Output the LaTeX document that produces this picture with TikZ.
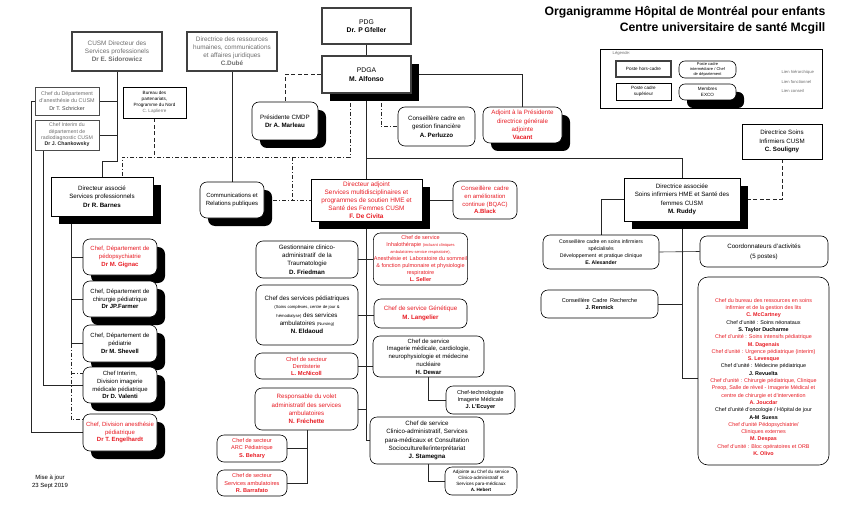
\documentclass[tikz,border=0pt]{standalone}
\usepackage{fontspec}
\setmainfont{Liberation Sans}
\usetikzlibrary{shadows}
\definecolor{ored}{RGB}{232,28,36}
\definecolor{ogray}{RGB}{110,110,110}
\pgfdeclarelayer{bg}
\pgfsetlayers{bg,main}
\newcommand\obox[7]{\node[#1, minimum width={#5pt-#3pt}, minimum height={#6pt-#4pt}] (#2) at ({(#3+#5)/2},{(#4+#6)/2}) {#7};}
\newcommand\redln[1]{\textcolor{ored}{#1}}
\tikzset{
  every node/.style={align=center, inner sep=0.5pt, font=\fontsize{6.2}{8}\selectfont},
  hc/.style={draw=black!75, line width=1.8pt, fill=white},
  sup/.style={draw=black, line width=0.6pt, fill=white},
  rnd/.style={draw=black, line width=0.6pt, rounded corners=7pt, fill=white},
  shd/.style={drop shadow={shadow xshift=8pt, shadow yshift=-8pt, opacity=1, fill=black}},
  rtxt/.style={text=ored},
  gtxt/.style={text=ogray},
  conn/.style={draw=black!85, line width=0.6pt},
  fnl/.style={conn, dash pattern=on 4pt off 2pt on 1pt off 2pt},
  cns/.style={conn, dash pattern=on 4pt off 2.5pt},
  f68/.style={font=\fontsize{6.8}{8.5}\selectfont},
  f64/.style={font=\fontsize{6.4}{8}\selectfont},
  f62/.style={font=\fontsize{6.2}{8.3}\selectfont},
  f60/.style={font=\fontsize{6}{7.8}\selectfont},
  f58/.style={font=\fontsize{5.8}{7}\selectfont},
  f56/.style={font=\fontsize{5.6}{7.2}\selectfont},
  f54/.style={font=\fontsize{5.4}{7.3}\selectfont},
  f52/.style={font=\fontsize{5.2}{7.2}\selectfont},
  f50/.style={font=\fontsize{5.2}{6.3}\selectfont},
  f46/.style={font=\fontsize{4.6}{6}\selectfont},
  f40/.style={font=\fontsize{4}{5}\selectfont},
  f36/.style={font=\fontsize{4.2}{5}\selectfont},
}
\begin{document}
\begin{tikzpicture}[x=1pt,y=-1pt]
\useasboundingbox (0,0) rectangle (850,513);

% title
\node[font=\fontsize{12.2}{16}\selectfont\bfseries, align=right, anchor=north east] (title) at (826,6) {Organigramme Hôpital de Montréal pour enfants\\Centre universitaire de santé Mcgill};

% legend
\obox{sup}{legend}{600}{49}{822}{108}{}
\node[anchor=west, f36, text=ogray] (leglbl) at (612,53) {Légende:};
\obox{hc, line width=1.2pt, f46}{lga}{616}{61}{671}{77}{Poste hors-cadre}
\obox{rnd, rounded corners=6pt, f40}{lgb}{679}{61}{736}{78}{Poste cadre\\intermédiaire / Chef\\de département}
\obox{sup, f46}{lgc}{616}{83}{671}{100}{Poste cadre\\supérieur}
\obox{rnd, rounded corners=6pt, shd, f46}{lgd}{679}{84}{736}{100}{Membres\\EXCO}
\coordinate (l1a) at (742,70); \coordinate (l1b) at (773,70);
\coordinate (l2a) at (742,81); \coordinate (l2b) at (773,81);
\coordinate (l3a) at (742,92); \coordinate (l3b) at (773,92);
\node[anchor=west, f36, text=ogray] (lt1) at (781,72) {Lien hiérarchique};
\node[anchor=west, f36, text=ogray] (lt2) at (781,82) {Lien fonctionnel};
\node[anchor=west, f36, text=ogray] (lt3) at (781,91) {Lien conseil};

% top
\obox{hc, f68}{pdg}{322}{8}{411}{44}{PDG\\\textbf{Dr. P Gfeller}}
\obox{hc, shd, f68}{pdga}{322}{56}{411}{93}{PDGA\\\textbf{M. Alfonso}}
\obox{hc, gtxt, f64}{cusmdir}{72}{32}{162}{71}{CUSM Directeur des\\Services professionels\\\textbf{Dr E. Sidorowicz}}
\obox{hc, gtxt, f64}{rh}{187}{32}{277}{71}{Directrice des ressources\\humaines, communications\\et affaires juridiques\\\textbf{C.Dubé}}
\obox{sup, draw=black!70, gtxt, f54}{schricker}{35}{87}{99}{115}{Chef du Département\\d'anesthésie du CUSM\\\textcolor{black!75}{Dr T. Schricker}}
\obox{sup, draw=black!70, gtxt, f50}{chankowsky}{35}{120}{99}{150}{Chef Interim du\\département de\\radiodiagnostic CUSM\\\textcolor{black!85}{\textbf{Dr J. Chankowsky}}}
\obox{sup, f46}{bureau}{123}{87}{186}{118}{Bureau des\\partenariats,\\Programme du Nord\\\textcolor{ogray}{C. Laplierre}}
\obox{rnd, shd, f62}{marleau}{252}{102}{318}{140}{Présidente CMDP\\\textbf{Dr A. Marleau}}
\obox{rnd, f62}{perluzzo}{398}{107}{475}{146}{Conseillère cadre en\\gestion financière\\\textbf{A. Perluzzo}}
\obox{rnd, shd, rtxt, f62}{vacant}{483}{107}{562}{143}{Adjoint à la Présidente\\directrice générale\\adjointe\\\textbf{Vacant}}
\obox{sup, f62}{souligny}{742}{124}{822}{159}{Directrice Soins\\Infirmiers CUSM\\\textbf{C. Souligny}}

% second level
\obox{sup, shd, f62}{barnes}{51}{177}{153}{216}{Directeur associé\\Services professionnels\\\textbf{Dr R. Barnes}}
\obox{rnd, shd, f60}{comm}{200}{182}{264}{218}{Communications et\\Relations publiques}
\obox{sup, shd, rtxt, f64}{decivita}{311}{179}{422}{221}{Directeur adjoint\\Services multidisciplinaires et\\programmes de soutien HME et\\Santé des Femmes CUSM\\\textbf{F. De Civita}}
\obox{rnd, rtxt, f60}{black}{453}{181}{517}{219}{Conseillère\, cadre\\en amélioration\\continue (BQAC)\\\textbf{A.Black}}
\obox{sup, shd, f62}{ruddy}{624}{178}{740}{221}{Directrice associée\\Soins infirmiers HME et Santé des\\femmes CUSM\\\textbf{M. Ruddy}}

% left column
\obox{rnd, shd, rtxt, f60}{gignac}{83}{239}{157}{275}{Chef, Département de\\pédopsychiatrie\\\textbf{Dr M. Gignac}}
\obox{rnd, shd, f60}{farmer}{83}{281}{157}{317}{Chef, Département de\\chirurgie pédiatrique\\\textbf{Dr JP.Farmer}}
\obox{rnd, shd, f60}{shevell}{83}{325}{157}{362}{Chef, Département de\\pédiatrie\\\textbf{Dr M. Shevell}}
\obox{rnd, shd, f60}{valenti}{83}{367}{157}{403}{Chef Interim,\\Division imagerie\\médicale pédiatrique\\\textbf{Dr D. Valenti}}
\obox{rnd, shd, rtxt, f60}{engelhardt}{83}{414}{157}{451}{Chef, Division anesthésie\\pédiatrique\\\textbf{Dr T. Engelhardt}}
\node[f60] (maj) at (50,482) {Mise à jour\\23 Sept 2019};

% middle column
\obox{rnd, f62}{friedman}{256}{241}{358}{278}{Gestionnaire clinico-\\administratif\, de la\\Traumatologie\\\textbf{D. Friedman}}
\obox{rnd, rtxt, font=\fontsize{5.5}{7}\selectfont}{seller}{374}{233}{467}{285}{Chef de service\\Inhalothérapie {\fontsize{4}{5}\selectfont(incluant cliniques}\\{\fontsize{4}{5}\selectfont ambulatoires-service respiratoire),}\\Anesthésie et\, Laboratoire du sommeil\\\& fonction pulmonaire et physiologie\\respiratoire\\\textbf{L. Seller}}
\obox{rnd, f62}{eldaoud}{256}{285}{358}{345}{Chef des services pédiatriques\\{\fontsize{4.2}{5}\selectfont(Soins complexes, centre de jour \&}\\{\fontsize{4.2}{5}\selectfont hémodialyse)} des services\\ambulatoires {\fontsize{4.2}{5}\selectfont(Nursing)}\\\textbf{N. Eldaoud}}
\obox{rnd, rtxt, f62}{langelier}{374}{299}{467}{328}{Chef de service Génétique\\\textbf{M. Langelier}}
\obox{rnd, rtxt, f58}{mcnicoll}{255}{353}{358}{379}{Chef de secteur\\Dentisterie\\\textbf{L. McNicoll}}
\obox{rnd, f60}{dewar}{373}{336}{484}{377}{Chef de service\\Imagerie médicale, cardiologie,\\neurophysiologie et médecine\\nucléaire\\\textbf{H. Dewar}}
\obox{rnd, f56}{lecuyer}{446}{386}{515}{414}{Chef-technologiste\\Imagerie Médicale\\\textbf{J. L'Ecuyer}}
\obox{rnd, rtxt, f62}{frechette}{255}{388}{358}{430}{Responsable du volet\\administratif des services\\ambulatoires\\\textbf{N. Fréchette}}
\obox{rnd, rtxt, f56}{behary}{217}{435}{287}{462}{Chef de secteur\\ARC Pédiatrique\\\textbf{S. Behary}}
\obox{rnd, rtxt, f56}{barrafato}{217}{470}{287}{496}{Chef de secteur\\Services ambulatoires\\\textbf{R. Barrafato}}
\obox{rnd, f62}{stamegna}{370}{417}{484}{464}{Chef de service\\Clinico-administratif, Services\\para-médicaux et Consultation\\Socioculturelle/interprétariat\\\textbf{J. Stamegna}}
\obox{rnd, f46}{hebert}{445}{467}{517}{495}{Adjointe au Chef du service\\Clinico-administratif et\\Services para-médicaux\\\textbf{A. Hebert}}

% right column
\obox{rnd, f52}{alexander}{543}{235}{659}{269}{Conseillère cadre en soins infirmiers\\spécialisés\\Développement\, et pratique clinique\\\textbf{E. Alexander}}
\obox{rnd, font=\fontsize{6.2}{10}\selectfont}{coord}{700}{236}{828}{267}{Coordonnateurs d'activités\\(5 postes)}
\obox{rnd, f56}{rennick}{541}{290}{658}{318}{Conseillère\, Cadre\, Recherche\\\textbf{J. Rennick}}
\obox{rnd, rounded corners=10pt}{bigbox}{698}{277}{829}{465}{}
\node[f54] (bigtext) at (763.5,377) {\redln{Chef du bureau des ressources en soins}\\
\redln{infirmier et de la gestion des lits}\\
\redln{\textbf{C. McCartney}}\\
Chef d'unité : Soins néonataux\\
\textbf{S. Taylor Ducharme}\\
\redln{Chef d'unité : Soins intensifs pédiatrique}\\
\redln{\textbf{M. Dagenais}}\\
\redln{Chef d'unité : Urgence pédiatrique (interim)}\\
\redln{\textbf{S. Levesque}}\\
Chef d'unité : Médecine pédiatrique\\
\textbf{J. Revuelta}\\
\redln{Chef d'unité : Chirurgie pédiatrique, Clinique}\\
\redln{Preop, Salle de réveil - Imagerie Médical et}\\
\redln{centre de chirurgie et d'intervention}\\
\redln{\textbf{A. Joucdar}}\\
Chef d'unité d'oncologie / Hôpital de jour\\
\textbf{A-M\, Suess}\\
\redln{Chef d'unité Pédopsychiatrie/}\\
\redln{Cliniques externes}\\
\redln{\textbf{M. Despas}}\\
\redln{Chef d'unité : Bloc opératoires et ORB}\\
\redln{\textbf{K. Olivo}}};

\coordinate (j1) at (292,157);

\begin{pgfonlayer}{bg}
\fill[white] (0,0) rectangle (850,513);
% legend lines
\draw[conn] (l1a) -- (l1b);
\draw[fnl] (l2a) -- (l2b);
\draw[cns] (l3a) -- (l3b);
% top
\draw[conn] (pdg.south) -- (pdga.north);
\draw[conn] (pdga.south) -- (decivita.north);
\draw[conn] (pdga.south |- 0,158) -| (ruddy.north);
\draw[conn] (pdga.east) -| (vacant.north);
\draw[cns] (pdga.west) -| (marleau.north);
\draw[fnl] (pdga.south -| 381,0) |- (perluzzo.west);
\draw[fnl] (pdga.south -| 350,0) |- (122,157) -- (122,0 |- barnes.north);
\draw[fnl] (j1) -- (j1 |- comm.east);
\draw[fnl] (comm.east) -- (decivita.west);
\draw[cns] (bureau.south) -- (bureau.south |- 0,157);
\draw[conn] (cusmdir.south) |- (102,161) -- (102,0 |- barnes.north);
\draw[conn] (schricker.east) -- (schricker.east -| cusmdir.south);
\draw[conn] (chankowsky.east) -- (chankowsky.east -| cusmdir.south);
\draw[conn] (rh.south) -- (comm.north);
\draw[conn] (schricker.west) -- (31,0 |- schricker.west) |- (engelhardt.west);
\draw[conn] (chankowsky.south -| 43,0) |- (valenti.west);
% Barnes
\draw[conn] (barnes.south -| 71,0) |- (shevell.west);
\draw[conn] (71,0 |- gignac.west) -- (gignac.west);
\draw[conn] (71,0 |- farmer.west) -- (farmer.west);
\draw[fnl] (71,0 |- shevell.west) |- ([yshift=13pt]engelhardt.west);
\draw[fnl] (71,0 |- valenti.west) ++(0,-12) -- ([yshift=12pt]valenti.west);
% De Civita
\draw[conn] (decivita.east) -- (black.west);
\draw[conn] (decivita.south) |- (stamegna.west);
\draw[conn] (friedman.east) -- (friedman.east -| seller.west);
\draw[conn] (eldaoud.east) -- (eldaoud.east -| langelier.west);
\draw[conn] (mcnicoll.east) -- (mcnicoll.east -| dewar.west);
\draw[conn] (frechette.east) -- (frechette.east -| decivita.south);
\draw[conn] (dewar.south -| 428,0) |- (lecuyer.west);
\draw[conn] (stamegna.south -| 428,0) |- (hebert.west);
\draw[conn] (frechette.south -| 307,0) |- (barrafato.east);
\draw[conn] (behary.east) -- (behary.east -| 307,0);
% Ruddy
\draw[cns] (souligny.south) |- (ruddy.east);
\draw[conn] (ruddy.west) -| (alexander.north);
\draw[conn] (ruddy.south) |- ([yshift=-7pt]bigbox.west);
\draw[conn] (alexander.east) -- (coord.west);
\draw[conn] (rennick.east) -- (rennick.east -| ruddy.south);
\end{pgfonlayer}
\end{tikzpicture}
\end{document}
